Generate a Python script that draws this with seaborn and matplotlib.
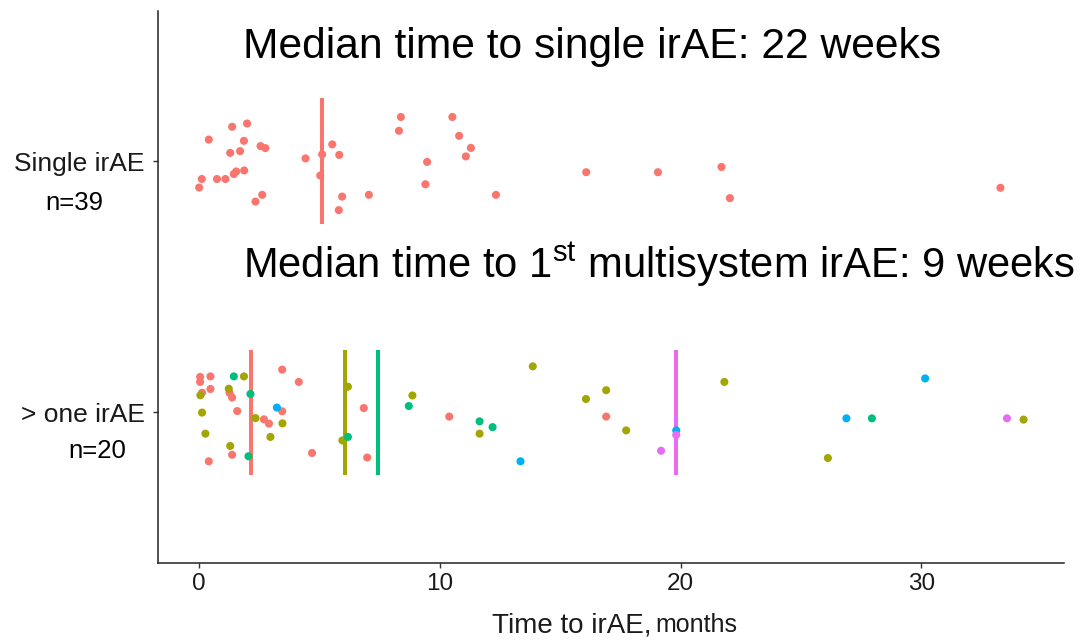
import numpy as np
import pandas as pd
import matplotlib
matplotlib.use("Agg")
import matplotlib.pyplot as plt
import seaborn as sns

# ---------------- data ----------------
categories = ["Single irAE", "> one irAE"]
counts = ["n=39", "n=20"]
order_labels = ["1st", "2nd", "3rd", "4th", "5th"]
palette = ["#F8766D", "#A3A500", "#00BF7D", "#00B0F6", "#E76BF3"]

# single irAE: time (months) and vertical jitter
single_time = [0.40, 1.37, 1.99, 1.86, 1.29, 1.70, 2.55, 2.75, 0.11, 0.00,
               0.74, 1.09, 1.44, 1.54, 1.87, 2.34, 2.62, 4.42, 5.11, 5.53,
               5.82, 5.03, 5.94, 5.80, 7.05, 8.38, 8.30, 9.47, 9.40, 10.52,
               10.80, 11.29, 11.08, 12.33, 16.08, 19.06, 21.70, 22.05, 33.29]
single_jit = [0.086, 0.137, 0.150, 0.081, 0.033, 0.040, 0.060, 0.052, -0.071, -0.105,
              -0.071, -0.071, -0.051, -0.041, -0.037, -0.161, -0.134, 0.011, 0.027, 0.067,
              0.025, -0.057, -0.141, -0.195, -0.134, 0.176, 0.121, -0.003, -0.092, 0.176,
              0.101, 0.053, 0.019, -0.134, -0.044, -0.044, -0.023, -0.147, -0.106]

# > one irAE, by order of the irAE
multi_1st_time = [0.04, 0.04, 0.47, 0.47, 0.12, 1.26, 1.37, 1.58, 3.45, 4.14,
                  3.45, 2.69, 2.90, 1.37, 0.40, 4.69, 6.84, 6.98, 10.39, 16.91]
multi_1st_jit = [0.141, 0.121, 0.143, 0.093, 0.078, 0.078, 0.059, 0.005, 0.170, 0.121,
                 0.004, -0.028, -0.045, -0.169, -0.195, -0.162, 0.017, -0.180, -0.017, -0.017]
multi_2nd_time = [1.86, 1.23, 0.05, 0.12, 0.26, 1.29, 2.34, 3.46, 2.96, 6.18,
                  5.95, 8.86, 13.86, 11.65, 16.07, 16.91, 17.74, 21.82, 26.12, 34.25]
multi_2nd_jit = [0.143, 0.094, 0.068, -0.001, -0.085, -0.134, -0.023, -0.044, -0.098, 0.102,
                 -0.112, 0.067, 0.183, -0.085, 0.053, 0.088, -0.072, 0.121, -0.182, -0.029]
multi_3rd_time = [1.44, 2.13, 2.05, 6.18, 8.71, 11.65, 12.19, 27.95]
multi_3rd_jit = [0.143, 0.073, -0.175, -0.098, 0.025, -0.036, -0.059, -0.024]
multi_4th_time = [3.23, 13.35, 19.82, 26.89, 30.16]
multi_4th_jit = [0.019, -0.195, -0.072, -0.024, 0.135]
multi_5th_time = [19.19, 19.82, 33.56]
multi_5th_jit = [-0.153, -0.090, -0.024]

title_single = "Median time to single irAE: 22 weeks"
title_multi = "Median time to 1$^{\\mathrm{st}}$ multisystem irAE: 9 weeks"
xlabel_main = "Time to irAE,"
xlabel_unit = "months"
xticks = [0, 10, 20, 30]

# ---------------- build table ----------------
rows = []
for t, j in zip(single_time, single_jit):
    rows.append((categories[0], "1st", t, j))
multi = [(multi_1st_time, multi_1st_jit), (multi_2nd_time, multi_2nd_jit),
         (multi_3rd_time, multi_3rd_jit), (multi_4th_time, multi_4th_jit),
         (multi_5th_time, multi_5th_jit)]
for lab, (ts, js) in zip(order_labels, multi):
    for t, j in zip(ts, js):
        rows.append((categories[1], lab, t, j))
df = pd.DataFrame(rows, columns=["group", "order", "time", "jit"])
base = {categories[0]: 2.0, categories[1]: 1.0}
df["ypos"] = df["group"].map(base) + df["jit"]

# ---------------- plot ----------------
sns.set_theme(style="white")
plt.rcParams["font.family"] = ["Liberation Sans", "DejaVu Sans"]
plt.rcParams["mathtext.fontset"] = "custom"
plt.rcParams["mathtext.rm"] = "Liberation Sans"

fig = plt.figure(figsize=(10.86, 6.43), dpi=100)
ax = fig.add_axes([158 / 1086, 80 / 643, (1064 - 158) / 1086, (563 - 10.5) / 643])

sns.scatterplot(data=df, x="time", y="ypos", hue="order", hue_order=order_labels,
                palette=palette, s=34, linewidth=0, legend=False, zorder=3, ax=ax)

meds = df.groupby(["group", "order"], sort=False)["time"].median().reset_index()
for g in categories:
    for lab, col in zip(order_labels, palette):
        m = meds[(meds.group == g) & (meds.order == lab)]
        if len(m):
            ax.vlines(m["time"].iloc[0], base[g] - 0.25, base[g] + 0.25,
                      color=col, lw=2.9, zorder=2, capstyle="butt")

ax.set_xlim(-1.71, 35.93)
ax.set_ylim(0.4, 2.6)
ax.set_xticks(xticks)
ax.set_xticklabels([str(v) for v in xticks], fontsize=17.5, color="#1a1a1a")
ax.set_yticks([base[c] for c in categories])
ax.set_yticklabels(categories, fontsize=19, color="#1a1a1a")
ax.set_xlabel("")
ax.set_ylabel("")
for s in ["top", "right"]:
    ax.spines[s].set_visible(False)
for s in ["left", "bottom"]:
    ax.spines[s].set_color("#222222")
    ax.spines[s].set_linewidth(1.1)
ax.tick_params(axis="both", length=3.5, width=1, color="#333333", direction="out",
               left=True, bottom=True)
ax.tick_params(axis="y", pad=6)
ax.tick_params(axis="x", pad=4)

# annotations
fig.text(243 / 1086, 1 - 58 / 643, title_single, fontsize=30.7, va="baseline", color="black")
fig.text(243 / 1086, 1 - 278 / 643, title_multi, fontsize=30.1, va="baseline", color="black")
fig.text(45 / 1086, 1 - 210 / 643, counts[0], fontsize=18.5, va="baseline", color="black")
fig.text(68 / 1086, 1 - 458 / 643, counts[1], fontsize=18.5, va="baseline", color="black")
fig.text(651 / 1086, 1 - 632 / 643, xlabel_main, fontsize=20, va="baseline", ha="right",
         color="#1a1a1a")
fig.text(655 / 1086, 1 - 632 / 643, xlabel_unit, fontsize=18, va="baseline", ha="left",
         color="#1a1a1a")

fig.savefig("out.png", dpi=100)
